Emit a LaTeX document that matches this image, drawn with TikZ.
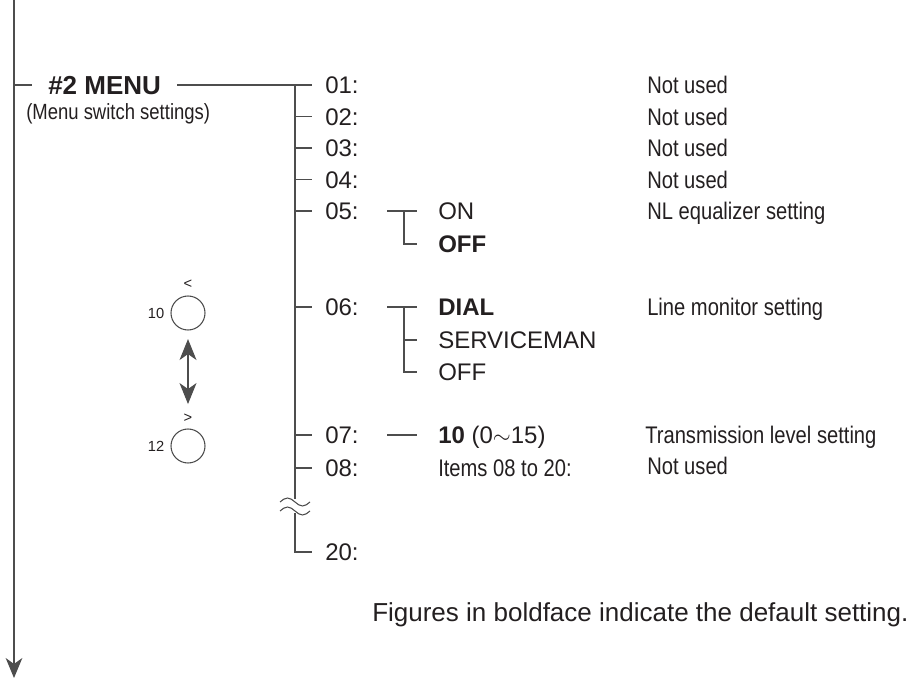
\documentclass[tikz,border=0pt]{standalone}
\usepackage{fontspec}
\setmainfont{Liberation Sans}
\newfontfamily\narrowfont[FakeStretch=0.84]{Liberation Sans}
\usetikzlibrary{arrows.meta,positioning,calc}
\definecolor{MenuInk}{HTML}{231F20}
\definecolor{MenuLine}{HTML}{4D4D4D}

\begin{document}
\begin{tikzpicture}[x=0.75pt,y=-0.75pt,text=MenuInk,
  wire/.style={draw=MenuLine,line width=0.8pt},
  item/.style={anchor=west,inner ysep=0pt,inner xsep=9.75pt,text height=12.9pt,text depth=0pt,font=\fontsize{18}{20}\selectfont},
  choice/.style={item,inner xsep=15.75pt},
  pick/.style={choice,font=\fontsize{18}{20}\selectfont\bfseries},
  note/.style={anchor=west,inner sep=0pt,text height=12.9pt,text depth=0pt,font=\fontsize{18}{20}\selectfont\narrowfont},
  knob/.style={draw=MenuLine,line width=0.8pt,circle,minimum size=25.5pt,inner sep=0pt},
  tiny/.style={inner sep=0pt,font=\fontsize{11}{12}\selectfont}]
  \useasboundingbox (0,0) rectangle (921,680);
  % main line
  \coordinate (mtop) at (14,0);
  \coordinate (mend) at (14,678);
  \draw[wire,-{Stealth[length=15pt,width=12.5pt,inset=4.5pt]}] (mtop) -- (mend);
  % menu title
  \node[anchor=west,inner xsep=12pt,inner ysep=0pt,text height=14pt,text depth=0pt,font=\fontsize{19.5}{22}\selectfont\bfseries] (menu) at (32,85) {\#2 MENU};
  \node[note,font=\fontsize{16.5}{18}\selectfont\narrowfont,text height=11.8pt] (menusub) at (26,112) {(Menu switch settings)};
  \draw[wire] (mtop |- menu.west) -- (menu.west);
  % items
  \coordinate (spine) at (295,85);
  \node[item] (r01) at (312,85) {01:};
  \node[item] (r02) at (312,116.5) {02:};
  \node[item] (r03) at (312,148) {03:};
  \node[item] (r04) at (312,179.5) {04:};
  \node[item] (r05) at (312,211) {05:};
  \node[item] (r06) at (312,307) {06:};
  \node[item] (r07) at (312,435) {07:};
  \node[item] (r08) at (312,468) {08:};
  \node[item] (r20) at (312,552) {20:};
  \draw[wire] (menu.east) -- (r01.west);
  \coordinate (brk1) at (295,499);
  \coordinate (brk2) at (295,513);
  \draw[wire] (spine) -- (brk1);
  \draw[wire] (brk2) -- (spine |- r20) -- (r20.west);
  \draw[wire] (spine |- r02) -- (r02.west);
  \draw[wire] (spine |- r03) -- (r03.west);
  \draw[wire] (spine |- r04) -- (r04.west);
  \draw[wire] (spine |- r05) -- (r05.west);
  \draw[wire] (spine |- r06) -- (r06.west);
  \draw[wire] (spine |- r07) -- (r07.west);
  \draw[wire] (spine |- r08) -- (r08.west);
  % break marks
  \draw[wire] (280,502) sin (287.5,498) cos (295,502) sin (302.5,506) cos (310,502);
  \draw[wire] (280,511) sin (287.5,507) cos (295,511) sin (302.5,515) cos (310,511);
  % descriptions
  \node[note] (d01) at (647,85) {Not used};
  \node[note] (d02) at (647,116.5) {Not used};
  \node[note] (d03) at (647,148) {Not used};
  \node[note] (d04) at (647,179.5) {Not used};
  \node[note] (d05) at (647,211) {NL equalizer setting};
  \node[note] (d06) at (647,307) {Line monitor setting};
  \node[note] (d07) at (645,435) {Transmission level setting};
  \node[note] (d08) at (647,466) {Not used};
  % 05 choices
  \coordinate (b05) at (387,211);
  \coordinate (v05) at (404,211);
  \node[choice] (on5) at (417,211) {ON};
  \node[pick] (off5) at (417,244) {OFF};
  \draw[wire] (b05) -- (on5.west);
  \draw[wire] (v05) -- (v05 |- off5) -- (off5.west);
  % 06 choices
  \coordinate (b06) at (387,307);
  \coordinate (v06) at (404,307);
  \node[pick] (dial) at (417,307) {DIAL};
  \node[choice] (serv) at (417,340) {SERVICEMAN};
  \node[choice] (off6) at (417,372) {OFF};
  \draw[wire] (b06) -- (dial.west);
  \draw[wire] (v06) -- (v06 |- off6) -- (off6.west);
  \draw[wire] (v06 |- serv) -- (serv.west);
  % 07 and 08
  \coordinate (b07) at (387,435);
  \node[choice] (lvl) at (417,435) {\textbf{10} (0$\sim$15)};
  \draw[wire] (b07) -- (lvl.west);
  \node[note] (items) at (438,468) {Items 08 to 20:};
  % switches
  \node[knob] (sw10) at (188,313) {};
  \node[tiny,left=4.5pt of sw10] (n10) {10};
  \node[tiny,above=5pt of sw10] (lt) {<};
  \node[knob] (sw12) at (188,446) {};
  \node[tiny,left=4.5pt of sw12] (n12) {12};
  \node[tiny,above=4pt of sw12] (gt) {>};
  \draw[wire,{Stealth[length=15.75pt,width=12.75pt,inset=4.5pt]}-{Stealth[length=15.75pt,width=12.75pt,inset=4.5pt]},shorten <=6.4pt,shorten >=7.5pt] (sw10.south) -- (gt.north);
  % footnote
  \node[anchor=west,inner sep=0pt,text height=14pt,text depth=0pt,font=\fontsize{19.5}{22}\selectfont] (foot) at (372,612) {Figures in boldface indicate the default setting.};
\end{tikzpicture}
\end{document}
